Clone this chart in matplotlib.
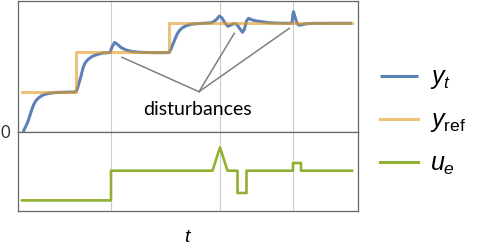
import matplotlib
matplotlib.use("Agg")
import matplotlib.pyplot as plt

plt.rcParams['mathtext.fontset'] = 'custom'
plt.rcParams['mathtext.rm'] = 'Liberation Sans'
plt.rcParams['mathtext.it'] = 'Liberation Sans:italic'
plt.rcParams['font.family'] = ['Liberation Sans', 'DejaVu Sans']

# ---- data (time in arbitrary units, values in arbitrary units) ----
yt_t = [23, 26, 28.5, 31, 33.5, 36, 39, 43, 48, 55, 65, 75, 77, 79, 81, 83, 85, 88, 92, 97,
        103, 110, 112, 114.5, 117, 121, 126, 132, 140, 150, 160, 169, 171, 173, 175, 177, 179,
        182, 186, 191, 198, 205, 212, 216, 219.5, 222, 225, 228, 231, 234, 237, 240, 242.5,
        244.5, 246.5, 248.5, 251, 255, 262, 270, 280, 292, 292.8, 293.5, 295, 297, 299, 302,
        306, 312, 330, 352]
yt_v = [0, 6, 12, 20, 27, 31.5, 34.5, 37, 38.5, 39.4, 39.8, 40, 42, 49, 56, 64, 69, 72.5, 75.5, 77.5,
        79, 79.5, 85, 89.5, 88, 84.5, 82, 80.5, 79.7, 79.4, 79.3, 79.5, 83, 88, 93, 97.5, 101,
        104, 106.2, 107.7, 108.4, 108.8, 109.4, 112, 116, 114, 109, 105.7, 107, 108.5, 107.5, 103, 99.7,
        103, 111, 113.7, 112.5, 111.3, 110.2, 109.2, 108.8, 108.7, 117, 120.3, 115, 108.5, 106.8, 107.3,
        108.2, 108.6, 108.7, 108.7]

yref_t = [22, 75.5, 169, 352]
yref_v = [40, 79.5, 108.7, 108.7]

ue_t = [22, 111, 111, 212.5, 220, 227.5, 237.5, 237.5, 246.5, 246.5, 293, 293, 301, 301, 352]
ue_v = [10.3, 10.3, 40, 40, 63.3, 40, 40, 17.7, 17.7, 40, 40, 47.7, 47.7, 40, 40]

grid_t = [111, 220, 293]

# annotation: junction point and targets
ann_x = [199, 122, 234.3, 289.3]
ann_y = [40.3, 74.7, 98.7, 103.7]

# ---- figure ----
W, H = 478, 248
fig = plt.figure(figsize=(W / 100, H / 100), dpi=100)
left, right = 17.5 / W, 358 / W
mid = (H - 132) / H
top = (H - 0.7) / H
bot = (H - 210.7) / H
ax1 = fig.add_axes([left, mid, right - left, top - mid])
ax2 = fig.add_axes([left, bot, right - left, mid - bot], sharex=ax1)

blue = '#5E81B5'
orange = '#E19C24'
green = '#8FB032'
frame = '#666666'

for ax in (ax1, ax2):
    for x in grid_t:
        ax.axvline(x, color='#CCCCCC', lw=0.8, zorder=0)
    for s in ax.spines.values():
        s.set_color(frame)
        s.set_linewidth(0.9)
    ax.tick_params(length=0)

l1, = ax1.plot(yt_t, yt_v, color=blue, lw=2.2, solid_capstyle='butt', zorder=3)
l2, = ax1.plot(yref_t, yref_v, color=orange, lw=2.2, alpha=0.6, drawstyle='steps-post', zorder=4)
l3, = ax2.plot(ue_t, ue_v, color=green, lw=1.9, zorder=3)

ax1.set_xlim(17.5, 358)
ax1.set_ylim(0, 131.3)
ax2.set_ylim(0, 78.7)
ax1.set_yticks([0])
ax1.set_yticklabels(['0'], fontsize=12, color='#333333', family='Lato')
ax1.tick_params(axis='y', pad=5.5)
ax2.set_yticks([])
ax1.tick_params(axis='x', labelbottom=False)
ax2.set_xticks([])
ax2.set_xlabel(r'$t$', fontsize=14, labelpad=13)

for i in range(1, len(ann_x)):
    ax1.plot([ann_x[0], ann_x[i]], [ann_y[0], ann_y[i]], color='#808080', lw=1.1, zorder=5)
ax1.text(197, 17, 'disturbances', ha='center', va='baseline', fontsize=14,
         family='Lato', color='black', zorder=6)

leg = fig.legend([l1, l2, l3], [r'$y_t$', r'$y_\mathrm{ref}$', r'$u_e$'],
                 loc='center left', bbox_to_anchor=(380 / W, (H - 121) / H),
                 frameon=False, fontsize=18, handlelength=1.52, handletextpad=0.5,
                 labelspacing=0.68, borderpad=0.0, borderaxespad=0.0)
for h in leg.legend_handles:
    h.set_alpha(1.0)
    h.set_linewidth(2.2)
leg.legend_handles[1].set_alpha(0.6)

fig.savefig('out.png', dpi=100)
